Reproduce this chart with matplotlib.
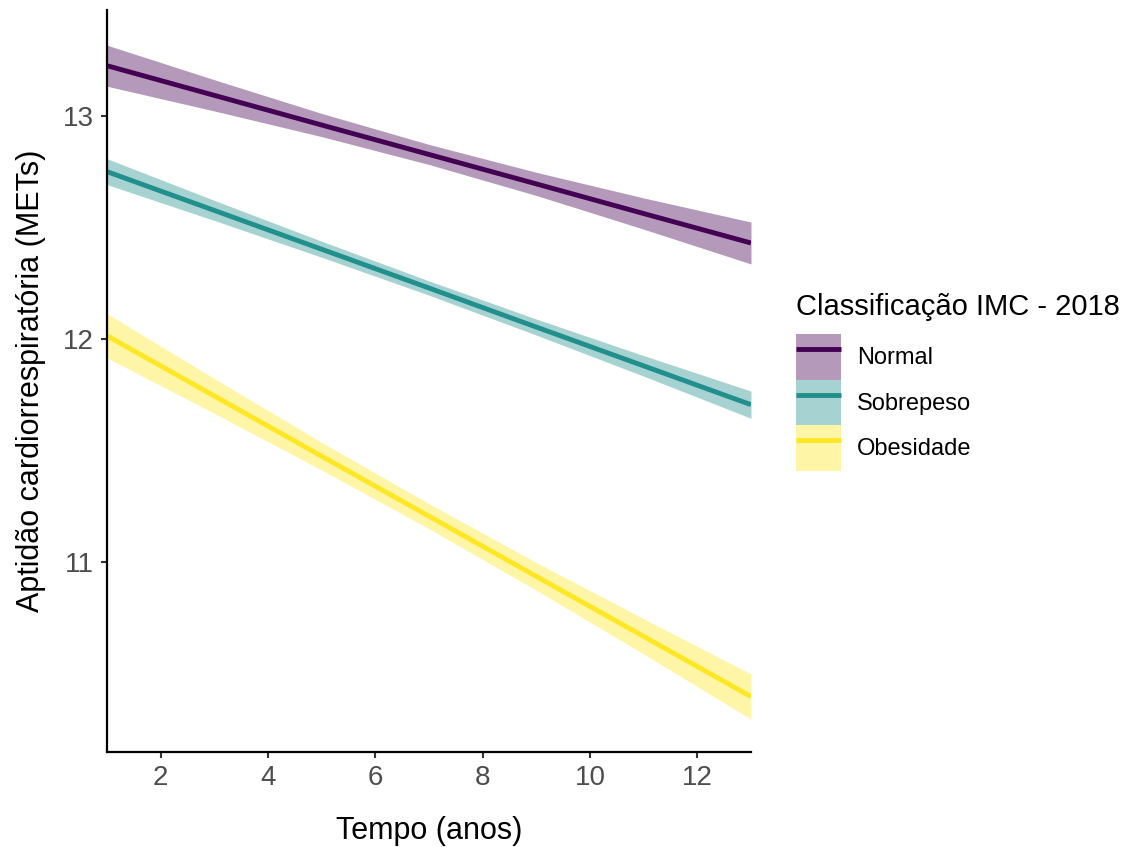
import matplotlib
matplotlib.use("Agg")
import matplotlib.pyplot as plt
from matplotlib.patches import Patch
from matplotlib.lines import Line2D
import numpy as np

plt.rcParams['font.family'] = ['Liberation Sans', 'DejaVu Sans']

# anos de seguimento onde as faixas foram lidas
tempo = [1, 3, 5, 7, 9, 11, 13]

grupos = ['Normal', 'Sobrepeso', 'Obesidade']
cores = ['#440154', '#21908C', '#FDE725']

# linha ajustada (METs)
normal = [13.226, 13.093, 12.960, 12.828, 12.696, 12.563, 12.431]
sobrepeso = [12.751, 12.577, 12.403, 12.229, 12.054, 11.880, 11.706]
obesidade = [12.015, 11.745, 11.475, 11.206, 10.936, 10.667, 10.397]

# meia largura do IC 95%
ic_normal = [0.092, 0.070, 0.052, 0.045, 0.052, 0.070, 0.094]
ic_sobrepeso = [0.058, 0.045, 0.036, 0.032, 0.036, 0.046, 0.061]
ic_obesidade = [0.099, 0.078, 0.062, 0.056, 0.062, 0.079, 0.101]

linhas = [normal, sobrepeso, obesidade]
ics = [ic_normal, ic_sobrepeso, ic_obesidade]

fig = plt.figure(figsize=(11.31, 8.47), dpi=100)
ax = fig.add_axes([0.0946, 0.112, 0.5694, 0.876])

x = np.array(tempo)
handles = []
for nome, cor, y, ic in zip(grupos, cores, linhas, ics):
    y = np.array(y)
    ic = np.array(ic)
    ax.fill_between(x, y - ic, y + ic, color=cor, alpha=0.4, linewidth=0)
    ax.plot(x, y, color=cor, linewidth=3.5, solid_capstyle='butt')
    handles.append((Patch(facecolor=cor, alpha=0.4, edgecolor='none'),
                    Line2D([], [], color=cor, linewidth=3.5,
                           solid_capstyle='butt')))

ax.set_xlim(1, 13)
ax.set_ylim(10.148, 13.475)
ax.set_xticks([2, 4, 6, 8, 10, 12])
ax.set_yticks([11, 12, 13])

for s in ['top', 'right']:
    ax.spines[s].set_visible(False)
for s in ['left', 'bottom']:
    ax.spines[s].set_linewidth(1.6)
    ax.spines[s].set_color('black')

ax.tick_params(axis='both', length=4.5, width=1.5, color='#333333',
               labelsize=20, labelcolor='#4D4D4D', pad=5)

ax.set_xlabel('Tempo (anos)', fontsize=22, labelpad=18)
ax.set_ylabel('Aptidão cardiorrespiratória (METs)', fontsize=22, labelpad=12)

# título da legenda separado para controlar o espaço até as chaves
fig.text(796 / 1131, 1 - 315 / 847, 'Classificação IMC - 2018',
         fontsize=21, ha='left', va='baseline')
leg = ax.legend(handles, grupos,
                loc='upper left', bbox_to_anchor=(796 / 1131, 1 - 334 / 847),
                bbox_transform=fig.transFigure, frameon=False,
                fontsize=17, handlelength=1.9, handleheight=2.6,
                labelspacing=0, handletextpad=0.68, borderpad=0,
                borderaxespad=0)

fig.savefig('out.png', dpi=100)
